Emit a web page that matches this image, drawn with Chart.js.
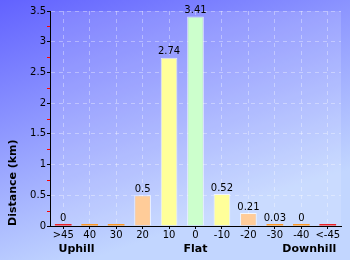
<!DOCTYPE html>
<html>
<head>
<meta charset="utf-8">
<script src="https://cdn.jsdelivr.net/npm/chart.js@4"></script>
<style>
    body { margin: 0; }
</style>
</head>
<body>
<canvas id="myChart" width="350" height="260"></canvas>
<script>
const xValues = [">45", "40", "30", "20", "10", "0", "-10", "-20", "-30", "-40", "<-45"]
const yValues = [0, 0, 0, 0.5, 2.74, 3.41, 0.52, 0.21, 0.03, 0, 0]
const valueLabels = ["0", "", "", "0.5", "2.74", "3.41", "0.52", "0.21", "0.03", "0", ""]
const barColors = ["#ee2222", "#ff9922", "#ff9922", "#ffcc99", "#ffff99", "#ccffcc", "#ffff99", "#ffcc99", "#ff9922", "#ff9922", "#ee2222"]
const yTicks = [0, 0.5, 1, 1.5, 2, 2.5, 3, 3.5]
const groupNames = ["Uphill", "Flat", "Downhill"]
const groupAt = [0.5, 5, 9.3]

const tickFont = { family: "DejaVu Sans", size: 10 }

// background gradient + lighter plot area
const backdrop = {
    id: "backdrop",
    beforeDraw(chart) {
        const ctx = chart.ctx
        const a = chart.chartArea
        ctx.save()
        const g = ctx.createLinearGradient(0, 0, 90, 260)
        g.addColorStop(0, "#6262ff")
        g.addColorStop(1, "#c2d6ff")
        ctx.fillStyle = g
        ctx.fillRect(0, 0, chart.width, chart.height)
        ctx.fillStyle = "rgba(255,255,255,0.14)"
        ctx.fillRect(a.left, a.top, a.right - a.left, a.bottom - a.top)
        ctx.restore()
    }
}

// red minor ticks, bar value labels, group names
const extras = {
    id: "extras",
    afterDraw(chart) {
        const ctx = chart.ctx
        const x = chart.scales.x
        const y = chart.scales.y
        ctx.save()
        ctx.strokeStyle = "#ff0000"
        ctx.lineWidth = 1
        for (let i = 0; i < yTicks.length - 1; i++) {
            const py = Math.round(y.getPixelForValue((yTicks[i] + yTicks[i + 1]) / 2)) + 0.5
            ctx.beginPath()
            ctx.moveTo(x.left - 3, py)
            ctx.lineTo(x.left, py)
            ctx.stroke()
        }
        ctx.fillStyle = "#000"
        ctx.font = "10px 'DejaVu Sans'"
        ctx.textAlign = "center"
        ctx.textBaseline = "bottom"
        const meta = chart.getDatasetMeta(0)
        meta.data.forEach((bar, i) => {
            if (valueLabels[i]) ctx.fillText(valueLabels[i], bar.x, bar.y - 1)
        })
        ctx.font = "bold 11px 'DejaVu Sans'"
        ctx.textBaseline = "middle"
        groupNames.forEach((name, i) => {
            const i0 = Math.floor(groupAt[i])
            const px = x.getPixelForValue(i0) + (groupAt[i] - i0) * (x.getPixelForValue(1) - x.getPixelForValue(0))
            ctx.fillText(name, px, 249)
        })
        ctx.restore()
    }
}

function my_bar_chart() {
    new Chart("myChart", {
        type: "bar",
        data: {
            labels: xValues,
            datasets: [{
                data: yValues,
                backgroundColor: barColors,
                borderColor: "rgba(255,255,255,0.75)",
                borderWidth: c => (yValues[c.dataIndex] < 0.05 ? 0 : 1),
                minBarLength: 2,
                barPercentage: 0.63,
                categoryPercentage: 1
            }]
        },
        options: {
            responsive: false,
            animation: false,
            layout: { padding: { top: 11, right: 9, left: 0, bottom: 0 } },
            scales: {
                y: {
                    min: 0,
                    max: 3.5,
                    afterFit(scale) { scale.width = 50 },
                    afterBuildTicks(scale) { scale.ticks = yTicks.map(v => ({ value: v })) },
                    ticks: { color: "#000", font: tickFont, padding: 1, callback: v => String(v) },
                    grid: { color: "rgba(255,255,255,0.35)", tickColor: "#000", tickLength: 3 },
                    border: { color: "#000", dash: [4, 4] },
                    title: {
                        display: true,
                        text: "Distance (km)",
                        align: "start",
                        color: "#000",
                        font: { family: "DejaVu Sans", size: 11, weight: "bold" },
                        padding: { top: 7, bottom: 0 }
                    }
                },
                x: {
                    afterFit(scale) { scale.height = 34 },
                    ticks: { color: "#000", font: tickFont, padding: 0, maxRotation: 0, autoSkip: false },
                    grid: { offset: false, color: "rgba(255,255,255,0.35)", tickColor: "#000", tickLength: 3 },
                    border: { color: "#000", dash: [4, 4] }
                }
            },
            plugins: {
                legend: { display: false },
                tooltip: { enabled: false }
            }
        },
        plugins: [backdrop, extras]
    })
}

my_bar_chart()
</script>
</body>
</html>
